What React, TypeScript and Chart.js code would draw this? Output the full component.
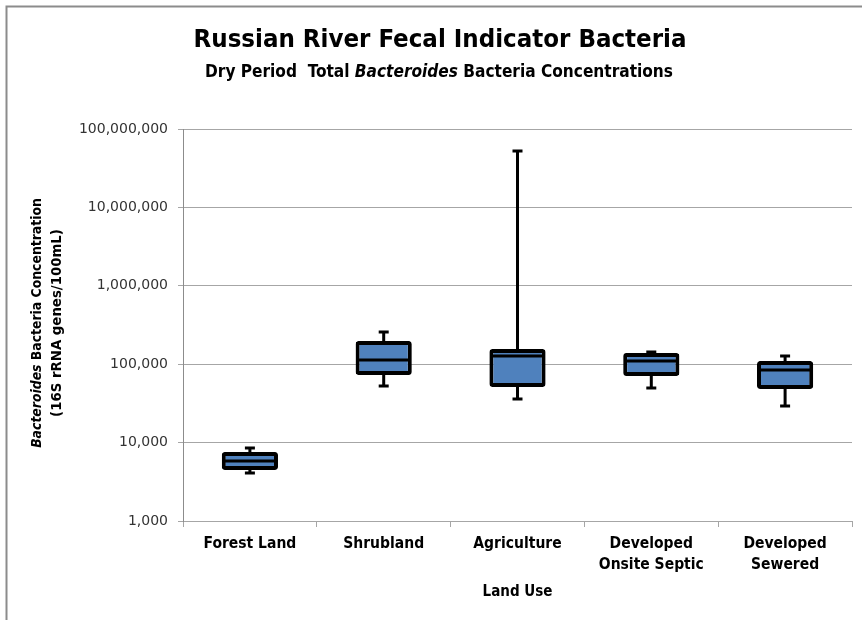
import React, { useEffect, useRef } from "react";
import { Chart, registerables } from "chart.js";

Chart.register(...registerables);

const categories: string[][] = [
  ["Forest Land"],
  ["Shrubland"],
  ["Agriculture"],
  ["Developed", "Onsite Septic"],
  ["Developed", "Sewered"],
];
const whiskerMin = [4100, 52700, 36000, 49700, 29300];
const q1 = [4480, 72800, 51200, 70700, 48300];
const median = [5820, 113000, 127000, 110000, 84300];
const q3 = [7590, 198000, 156000, 139000, 110000];
const whiskerMax = [8530, 258000, 52400000, 143000, 127000];
const yTicks = [1000, 10000, 100000, 1000000, 10000000, 100000000];

const titleText = "Russian River Fecal Indicator Bacteria";
const subtitleParts: [string, boolean][] = [
  ["Dry Period  Total ", false],
  ["Bacteroides", true],
  [" Bacteria Concentrations", false],
];
const yTitle1: [string, boolean][] = [
  ["Bacteroides", true],
  [" Bacteria Concentration", false],
];
const yTitle2: [string, boolean][] = [["(16S rRNA genes/100mL)", false]];
const xTitle: [string, boolean][] = [["Land Use", false]];

const FAMILY = '"Liberation Sans Narrow", "DejaVu Sans Condensed", "Open Sans", sans-serif';

function fontStr(size: number, italic: boolean) {
  return `${italic ? "italic " : ""}bold ${size}px ${FAMILY}`;
}

function drawFitted(
  ctx: CanvasRenderingContext2D,
  parts: [string, boolean][],
  cx: number,
  cy: number,
  targetW: number,
  maxSize: number,
  rotate = false
) {
  const base = 20;
  let w = 0;
  for (const [t, it] of parts) {
    ctx.font = fontStr(base, it);
    w += ctx.measureText(t).width;
  }
  let size = (base * targetW) / w;
  if (size > maxSize) size = maxSize;
  let total = 0;
  const widths: number[] = [];
  for (const [t, it] of parts) {
    ctx.font = fontStr(size, it);
    const mw = ctx.measureText(t).width;
    widths.push(mw);
    total += mw;
  }
  ctx.save();
  ctx.translate(cx, cy);
  if (rotate) ctx.rotate(-Math.PI / 2);
  ctx.fillStyle = "#000";
  ctx.textBaseline = "middle";
  ctx.textAlign = "left";
  let x = -total / 2;
  parts.forEach(([t, it], i) => {
    ctx.font = fontStr(size, it);
    ctx.fillText(t, x, 0);
    x += widths[i];
  });
  ctx.restore();
}

const boxPlugin = {
  id: "boxExtras",
  beforeDatasetsDraw(chart: any) {
    const ctx: CanvasRenderingContext2D = chart.ctx;
    const y = chart.scales.y;
    const meta = chart.getDatasetMeta(0);
    ctx.save();
    ctx.strokeStyle = "#000";
    ctx.lineCap = "butt";
    meta.data.forEach((bar: any, i: number) => {
      const x = bar.x;
      const yMin = y.getPixelForValue(whiskerMin[i]);
      const yQ1 = y.getPixelForValue(q1[i]);
      const yQ3 = y.getPixelForValue(q3[i]);
      const yMax = y.getPixelForValue(whiskerMax[i]);
      ctx.lineWidth = 3;
      ctx.beginPath();
      ctx.moveTo(x, yQ3);
      ctx.lineTo(x, yMax);
      ctx.moveTo(x, yQ1);
      ctx.lineTo(x, yMin);
      ctx.stroke();
      ctx.beginPath();
      ctx.moveTo(x - 5, yMax);
      ctx.lineTo(x + 5, yMax);
      ctx.moveTo(x - 5, yMin);
      ctx.lineTo(x + 5, yMin);
      ctx.stroke();
    });
    ctx.restore();
  },
  afterDatasetsDraw(chart: any) {
    const ctx: CanvasRenderingContext2D = chart.ctx;
    const y = chart.scales.y;
    const meta = chart.getDatasetMeta(0);
    ctx.save();
    ctx.strokeStyle = "#000";
    meta.data.forEach((bar: any, i: number) => {
      const x = bar.x;
      const half = bar.width / 2;
      const yMed = y.getPixelForValue(median[i]);
      ctx.lineWidth = 3;
      ctx.beginPath();
      ctx.moveTo(x - half + 2, yMed);
      ctx.lineTo(x + half - 2, yMed);
      ctx.stroke();
    });
    ctx.restore();
  },
  afterDraw(chart: any) {
    const ctx: CanvasRenderingContext2D = chart.ctx;
    const area = chart.chartArea;
    ctx.save();
    ctx.strokeStyle = "#8c8c8c";
    ctx.lineWidth = 2;
    ctx.beginPath();
    ctx.moveTo(6.5, 620);
    ctx.lineTo(6.5, 6.5);
    ctx.lineTo(862, 6.5);
    ctx.stroke();
    ctx.restore();
    drawFitted(ctx, [[titleText, false]], 440, 40, 493, 34);
    drawFitted(ctx, subtitleParts, 439, 73, 468, 20);
    const cy = (area.top + area.bottom) / 2 - 2;
    drawFitted(ctx, yTitle1, 37, cy, 250, 17, true);
    drawFitted(ctx, yTitle2, 57, cy, 188, 17, true);
    drawFitted(ctx, xTitle, (area.left + area.right) / 2, 592, 70, 17);
  },
};

export default function App() {
  const ref = useRef<HTMLCanvasElement | null>(null);
  useEffect(() => {
    if (!ref.current) return;
    const chart = new Chart(ref.current, {
      type: "bar",
      data: {
        labels: categories,
        datasets: [
          {
            data: q1.map((v, i) => [v, q3[i]]) as any,
            backgroundColor: "#4F81BD",
            borderColor: "#000",
            borderWidth: 4,
            borderRadius: 3,
            borderSkipped: false,
            barPercentage: 0.42,
            categoryPercentage: 1,
          },
        ],
      },
      options: {
        animation: false,
        responsive: true,
        maintainAspectRatio: false,
        layout: { padding: { top: 129, right: 10, left: 0, bottom: 0 } },
        plugins: {
          legend: { display: false },
          tooltip: { enabled: false },
          title: { display: false },
        },
        scales: {
          x: {
            grid: {
              display: true,
              drawOnChartArea: false,
              drawTicks: true,
              tickLength: 6,
              offset: true,
              color: "#a6a6a6",
            },
            border: { color: "#a6a6a6", width: 1 },
            ticks: {
              color: "#000",
              padding: 6,
              maxRotation: 0,
              autoSkip: false,
              font: { family: FAMILY, size: 15.5, weight: "bold", lineHeight: 1.38 },
            },
            afterFit(scale: any) {
              scale.height = 99;
            },
          },
          y: {
            type: "logarithmic",
            min: 1000,
            max: 100000000,
            afterBuildTicks(scale: any) {
              scale.ticks = yTicks.map((v) => ({ value: v }));
            },
            afterFit(scale: any) {
              scale.width = 183;
            },
            grid: { color: "#a6a6a6", tickLength: 5, lineWidth: 1 },
            border: { color: "#8c8c8c", width: 1 },
            ticks: {
              color: "#333",
              padding: 10,
              font: { family: '"DejaVu Sans", sans-serif', size: 14 },
              callback: (v: any) => Number(v).toLocaleString("en-US"),
            },
          },
        },
      },
      plugins: [boxPlugin],
    });
    return () => chart.destroy();
  }, []);
  return (
    <div style={{ position: "fixed", left: 0, top: 0, width: 862, height: 620, background: "#fff" }}>
      <canvas ref={ref} />
    </div>
  );
}
